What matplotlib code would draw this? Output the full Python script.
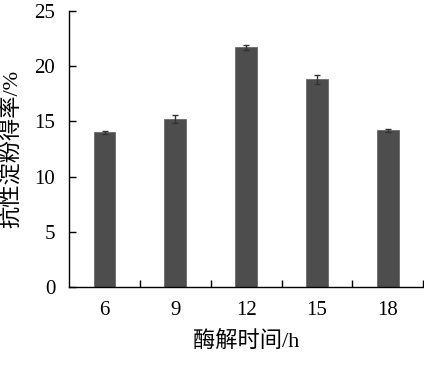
import matplotlib
matplotlib.use("Agg")
import matplotlib.pyplot as plt
import numpy as np

# Data
hours = ["6", "9", "12", "15", "18"]
yield_pct = [14.0, 15.2, 21.7, 18.8, 14.2]
err = [0.1, 0.35, 0.2, 0.4, 0.15]

plt.rcParams['font.family'] = ['Liberation Serif', 'Noto Sans CJK SC']
plt.rcParams['font.size'] = 15

fig = plt.figure(figsize=(4.24, 3.81), dpi=100)
ax = fig.add_axes([0.163, 0.247, 0.835, 0.724])

x = np.arange(len(hours))
ax.bar(x, yield_pct, width=0.31, color="#4d4d4d", edgecolor="#6a6a6a", linewidth=0.6,
       yerr=err, capsize=2.5, error_kw=dict(ecolor="#333333", elinewidth=1, capthick=1))

ax.set_xlim(-0.5, 4.5)
ax.set_ylim(0, 25)
ax.set_yticks([0, 5, 10, 15, 20, 25])
ax.set_xticks(x)
ax.set_xticklabels(hours)
ax.set_xticks(np.arange(0.5, 5, 1), minor=True)
ax.tick_params(axis='x', which='major', length=0, pad=10)
ax.tick_params(axis='x', which='minor', direction='in', length=5, width=1)
ax.tick_params(axis='y', direction='in', length=5, width=1, pad=10)

ax.spines['top'].set_visible(False)
ax.spines['right'].set_visible(False)
ax.spines['left'].set_linewidth(1)
ax.spines['bottom'].set_linewidth(1)

ax.set_xlabel("酶解时间/h", fontsize=16, labelpad=8)
ax.set_ylabel("抗性淀粉得率/%", fontsize=16, labelpad=8)

fig.savefig("out.png", dpi=100)
